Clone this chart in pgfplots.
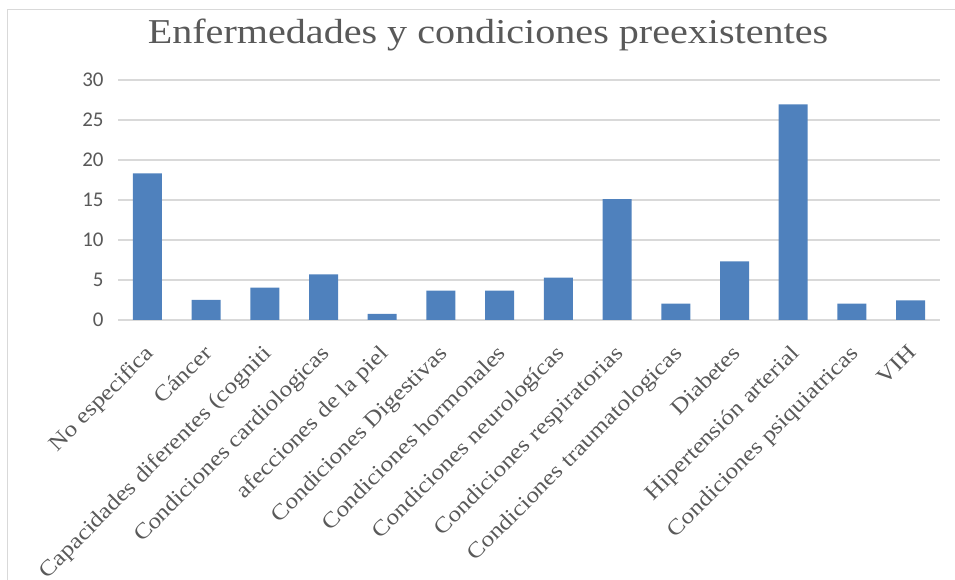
\documentclass[border=0pt]{standalone}
\usepackage{pgfplots}
\pgfplotsset{compat=1.18}
\usepackage{fontspec}
\setmainfont{Liberation Serif}
\newfontfamily\cambria[FakeStretch=1.15]{Liberation Serif}
\newfontfamily\calibri{Carlito}
\definecolor{barblue}{HTML}{4F81BD}
\definecolor{gridgray}{HTML}{D9D9D9}
\definecolor{txtgray}{HTML}{595959}
\begin{document}
\begin{tikzpicture}[x=1bp,y=1bp]
\path[use as bounding box] (0,0) rectangle (955,580);
\draw[gridgray, line width=1bp] (7,0) -- (7,570) -- (955,570);
\node[font=\cambria\fontsize{35}{40}\selectfont, text=txtgray] at (488,545) {Enfermedades y condiciones preexistentes};
\begin{axis}[at={(118bp,260bp)}, anchor=south west, scale only axis,
  width=822bp, height=240bp,
  xmin=-0.5, xmax=13.5, ymin=0, ymax=30, ytick={0,5,...,30},
  xtick=data,
  xticklabels={No especifica, Cáncer, Capacidades diferentes (cogniti, Condiciones cardiologicas, afecciones de la piel, Condiciones Digestivas, Condiciones hormonales, Condiciones neurologícas, Condiciones respiratorias, Condiciones traumatologicas, Diabetes, Hipertensión arterial, Condiciones psiquiatricas, VIH},
  axis line style={draw=none}, major tick length=0pt,
  ymajorgrids, grid style={gridgray, line width=1.5bp},
  /pgf/number format/assume math mode=true,
  tick label style={text=txtgray},
  yticklabel style={font=\calibri\fontsize{21}{24}\selectfont, anchor=east, xshift=-11bp},
  xticklabel style={font=\cambria\fontsize{22}{26}\selectfont, rotate=45, anchor=north east, inner sep=1bp, xshift=-18bp, yshift=-13bp},
  ybar, bar width=29bp,
]
\addplot[fill=barblue, draw=none] coordinates {
(0,18.33) (1,2.5) (2,4.04) (3,5.7) (4,0.75) (5,3.67) (6,3.67) (7,5.3) (8,15.1) (9,2.04) (10,7.33) (11,26.96) (12,2.04) (13,2.46)};
\end{axis}
\end{tikzpicture}
\end{document}
